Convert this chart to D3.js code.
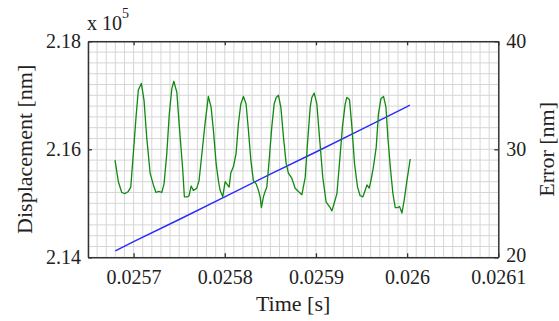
<!DOCTYPE html>
<html>
<head>
<meta charset="utf-8">
<script src="https://cdn.jsdelivr.net/npm/d3@7"></script>
<style>
  html, body { margin: 0; padding: 0; background: #fff; }
  svg { display: block; }
  text { font-family: "Liberation Serif", "Times New Roman", serif; fill: #222; }
</style>
</head>
<body>
<svg id="chart" width="559" height="321"></svg>
<script>
// ---- Data ----
// Displacement (left axis, nm) vs time (s)
const dispTime = [0.025680, 0.025700, 0.025750, 0.025800, 0.025850, 0.025900, 0.025950, 0.026000, 0.026003];
const dispValue = [214120, 214290, 214700, 215120, 215540, 215950, 216370, 216790, 216820];

// Error (right axis, nm) vs time (s)
const errTime = [
  0.0256796, 0.0256833, 0.0256870, 0.0256906, 0.0256942, 0.0256969, 0.0256997, 0.0257027,
  0.0257052, 0.0257085, 0.0257115, 0.0257144, 0.0257181, 0.0257217, 0.0257246, 0.0257276,
  0.0257309, 0.0257334, 0.0257364, 0.0257392, 0.0257419, 0.0257441, 0.0257474, 0.0257502,
  0.0257539, 0.0257557, 0.0257590, 0.0257609, 0.0257631, 0.0257656, 0.0257693, 0.0257718,
  0.0257748, 0.0257784, 0.0257820, 0.0257850, 0.0257875, 0.0257905, 0.0257930, 0.0257949,
  0.0257978, 0.0258004, 0.0258022, 0.0258048, 0.0258066, 0.0258095, 0.0258124, 0.0258150,
  0.0258176, 0.0258205, 0.0258234, 0.0258259, 0.0258286, 0.0258314, 0.0258344, 0.0258369,
  0.0258388, 0.0258402, 0.0258424, 0.0258443, 0.0258461, 0.0258487, 0.0258516, 0.0258542,
  0.0258564, 0.0258589, 0.0258615, 0.0258644, 0.0258673, 0.0258698, 0.0258736, 0.0258772,
  0.0258808, 0.0258846, 0.0258882, 0.0258907, 0.0258937, 0.0258955, 0.0258981, 0.0259010,
  0.0259039, 0.0259075, 0.0259112, 0.0259148, 0.0259175, 0.0259203, 0.0259230, 0.0259258,
  0.0259291, 0.0259321, 0.0259339, 0.0259368, 0.0259394, 0.0259423, 0.0259456, 0.0259485,
  0.0259515, 0.0259540, 0.0259559, 0.0259584, 0.0259603, 0.0259631, 0.0259661, 0.0259686,
  0.0259713, 0.0259741, 0.0259768, 0.0259789, 0.0259815, 0.0259844, 0.0259870, 0.0259895,
  0.0259917, 0.0259943, 0.0259968, 0.0259998, 0.0260034
];
const errValue = [
  29.0, 27.0, 26.0, 25.9, 26.1, 26.5, 29.6, 33.0,
  35.5, 36.1, 34.5, 31.1, 27.8, 26.7, 26.0, 26.1,
  26.0, 26.8, 29.6, 33.3, 35.6, 36.3, 35.3, 32.1,
  28.1, 25.6, 25.6, 25.7, 26.6, 26.2, 26.4, 27.1,
  29.5, 32.4, 34.9, 33.9, 31.8, 28.7, 27.1, 26.2,
  25.6, 27.0, 26.8, 26.5, 27.8, 28.4, 29.6, 32.4,
  34.2, 34.9, 34.2, 31.8, 29.0, 27.1, 26.8, 26.2,
  25.6, 24.6, 25.6, 26.1, 26.5, 29.0, 32.1, 34.2,
  34.8, 35.0, 33.9, 31.1, 28.7, 27.8, 27.3, 26.4,
  26.1, 25.8, 27.4, 30.5, 33.9, 34.8, 35.2, 34.2,
  31.1, 27.4, 25.1, 24.7, 24.3, 25.1, 25.9, 28.7,
  32.1, 34.2, 34.8, 34.6, 32.1, 28.7, 26.5, 25.7,
  25.6, 26.2, 26.7, 26.4, 27.1, 28.4, 30.2, 33.3,
  34.7, 34.9, 33.9, 31.1, 28.4, 25.9, 24.6, 24.6,
  24.7, 24.1, 25.3, 27.1, 29.1
];

// Axes / ticks
const xDomain = [0.02565, 0.0261];
const xTicks = [0.0257, 0.0258, 0.0259, 0.026, 0.0261];
const yLeftDomain = [214000, 218000];
const yLeftTicks = [214000, 216000, 218000];
const yRightDomain = [20, 40];
const yRightTicks = [20, 30, 40];
const xLabel = "Time [s]";
const yLeftLabel = "Displacement [nm]";
const yRightLabel = "Error [nm]";

// ---- Layout ----
const svg = d3.select("#chart");
const m = { left: 88, top: 41.3, right: 498.3, bottom: 257.3 };
const x = d3.scaleLinear().domain(xDomain).range([m.left, m.right]);
const yL = d3.scaleLinear().domain(yLeftDomain).range([m.bottom, m.top]);
const yR = d3.scaleLinear().domain(yRightDomain).range([m.bottom, m.top]);

// Grid (minor: 10 per x major, 10 per y major)
const grid = svg.append("g");
const xGrid = d3.range(0, 46).map(i => xDomain[0] + i * 0.00001);
const yGrid = d3.range(0, 21).map(i => yRightDomain[0] + i);
grid.selectAll("line.gx").data(xGrid).enter().append("line")
  .attr("x1", d => x(d)).attr("x2", d => x(d))
  .attr("y1", m.top).attr("y2", m.bottom)
  .attr("stroke", "#d6d6d6").attr("stroke-width", 1);
grid.selectAll("line.gy").data(yGrid).enter().append("line")
  .attr("x1", m.left).attr("x2", m.right)
  .attr("y1", d => yR(d)).attr("y2", d => yR(d))
  .attr("stroke", "#d6d6d6").attr("stroke-width", 1);

// Lines
const dispLine = d3.line().x((d, i) => x(dispTime[i])).y(d => yL(d));
svg.append("path").datum(dispValue)
  .attr("d", dispLine).attr("fill", "none")
  .attr("stroke", "#2a2aff").attr("stroke-width", 1.4);

const errLine = d3.line().x((d, i) => x(errTime[i])).y(d => yR(d));
svg.append("path").datum(errValue)
  .attr("d", errLine).attr("fill", "none")
  .attr("stroke", "#108a10").attr("stroke-width", 1.3).attr("stroke-linejoin", "round");

// Axes
const tickLen = 4;
const axColor = "#333";
const xAxisB = d3.axisBottom(x).tickValues(xTicks).tickSizeInner(-tickLen).tickSizeOuter(0).tickPadding(13).tickFormat(d => String(d));
const xAxisT = d3.axisTop(x).tickValues(xTicks).tickSizeInner(-tickLen).tickSizeOuter(0).tickFormat("");
const yAxisL = d3.axisLeft(yL).tickValues(yLeftTicks).tickSizeInner(-tickLen).tickSizeOuter(0).tickPadding(7).tickFormat(d => (d / 1e5).toFixed(2));
const yAxisR = d3.axisRight(yR).tickValues(yRightTicks).tickSizeInner(-tickLen).tickSizeOuter(0).tickPadding(8).tickFormat(d => String(d));

function style(g) {
  g.select(".domain").attr("stroke", axColor).attr("stroke-width", 1.5);
  g.selectAll(".tick line").attr("stroke", axColor).attr("stroke-width", 1.3);
  g.selectAll(".tick text").style("font-family", "'Liberation Serif', serif").style("font-size", "20px").attr("fill", "#222");
}
svg.append("g").attr("transform", `translate(0,${m.bottom})`).call(xAxisB).call(style);
svg.append("g").attr("transform", `translate(0,${m.top})`).call(xAxisT).call(style);
svg.append("g").attr("transform", `translate(${m.left},0)`).call(yAxisL).call(style);
const gR = svg.append("g").attr("transform", `translate(${m.right},0)`).call(yAxisR).call(style);
// keep the lowest right label clear of the x tick label below it
gR.selectAll(".tick text").filter(d => d === yRightDomain[0]).attr("dy", "0.2em");

// Labels
svg.append("text").attr("x", (m.left + m.right) / 2).attr("y", 311)
  .attr("text-anchor", "middle").style("font-size", "22px").text(xLabel);
svg.append("text").attr("transform", `translate(31.5,${(m.top + m.bottom) / 2}) rotate(-90)`)
  .attr("text-anchor", "middle").style("font-size", "22px").text(yLeftLabel);
svg.append("text").attr("transform", `translate(554,${(m.top + m.bottom) / 2}) rotate(-90)`)
  .attr("text-anchor", "middle").style("font-size", "22px").text(yRightLabel);

// Exponent label
const ex = svg.append("text").attr("x", 87).attr("y", 30).style("font-size", "20px");
ex.append("tspan").text("x 10");
ex.append("tspan").attr("dy", -12).style("font-size", "14px").text("5");
</script>
</body>
</html>
